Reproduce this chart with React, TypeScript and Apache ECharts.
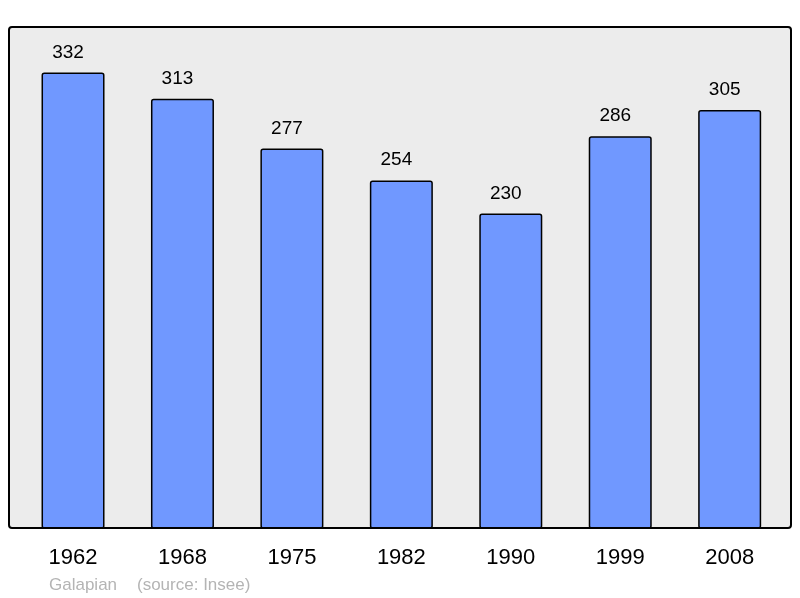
import React, { useEffect, useRef } from "react";
import * as echarts from "echarts";

const categories = ["1962", "1968", "1975", "1982", "1990", "1999", "2008"];
const population = [332, 313, 277, 254, 230, 286, 305];
const footerName = "Galapian";
const footerSource = "(source: Insee)";

export default function App() {
  const ref = useRef<HTMLDivElement>(null);
  useEffect(() => {
    if (!ref.current) return;
    const chart = echarts.init(ref.current, null, { renderer: "svg" });
    chart.setOption({
      animation: false,
      textStyle: { fontFamily: "Liberation Sans, Arial, sans-serif" },
      grid: { left: 18.3, right: 15.6, top: 27, bottom: 70 },
      xAxis: {
        type: "category",
        data: categories,
        axisLine: { show: false },
        axisTick: { show: false },
        axisLabel: { color: "#000", fontSize: 22, margin: 17, fontFamily: "Liberation Sans, Arial, sans-serif" },
      },
      yAxis: {
        type: "value",
        min: 2.5,
        max: 365,
        show: false,
        splitLine: { show: false },
      },
      series: [
        {
          type: "bar",
          data: population,
          barWidth: 63,
          clip: true,
          itemStyle: {
            color: "#7098ff",
            borderColor: "#000",
            borderWidth: 1.5,
            borderRadius: 2,
          },
          label: {
            show: true,
            position: "top",
            distance: 12,
            offset: [-5, 0],
            color: "#000",
            fontSize: 19,
            fontFamily: "Liberation Sans, Arial, sans-serif",
          },
        },
      ],
      graphic: [
        {
          type: "rect",
          z: -10,
          shape: { x: 9, y: 27, width: 782, height: 501, r: 3 },
          style: { fill: "#ececec", stroke: "none" },
          silent: true,
        },
        {
          type: "rect",
          z: 100,
          shape: { x: 9, y: 27, width: 782, height: 501, r: 3 },
          style: { fill: "none", stroke: "#000", lineWidth: 2 },
          silent: true,
        },
        {
          type: "text",
          x: 49,
          y: 576,
          style: {
            text: footerName,
            fill: "#b4b4b4",
            fontSize: 17,
            fontFamily: "Liberation Sans, Arial, sans-serif",
          },
        },
        {
          type: "text",
          x: 137,
          y: 576,
          style: {
            text: footerSource,
            fill: "#b4b4b4",
            fontSize: 17,
            fontFamily: "Liberation Sans, Arial, sans-serif",
          },
        },
      ],
    });
    return () => chart.dispose();
  }, []);
  return (
    <div
      ref={ref}
      style={{ position: "fixed", left: 0, top: 0, width: 800, height: 598 }}
    />
  );
}
